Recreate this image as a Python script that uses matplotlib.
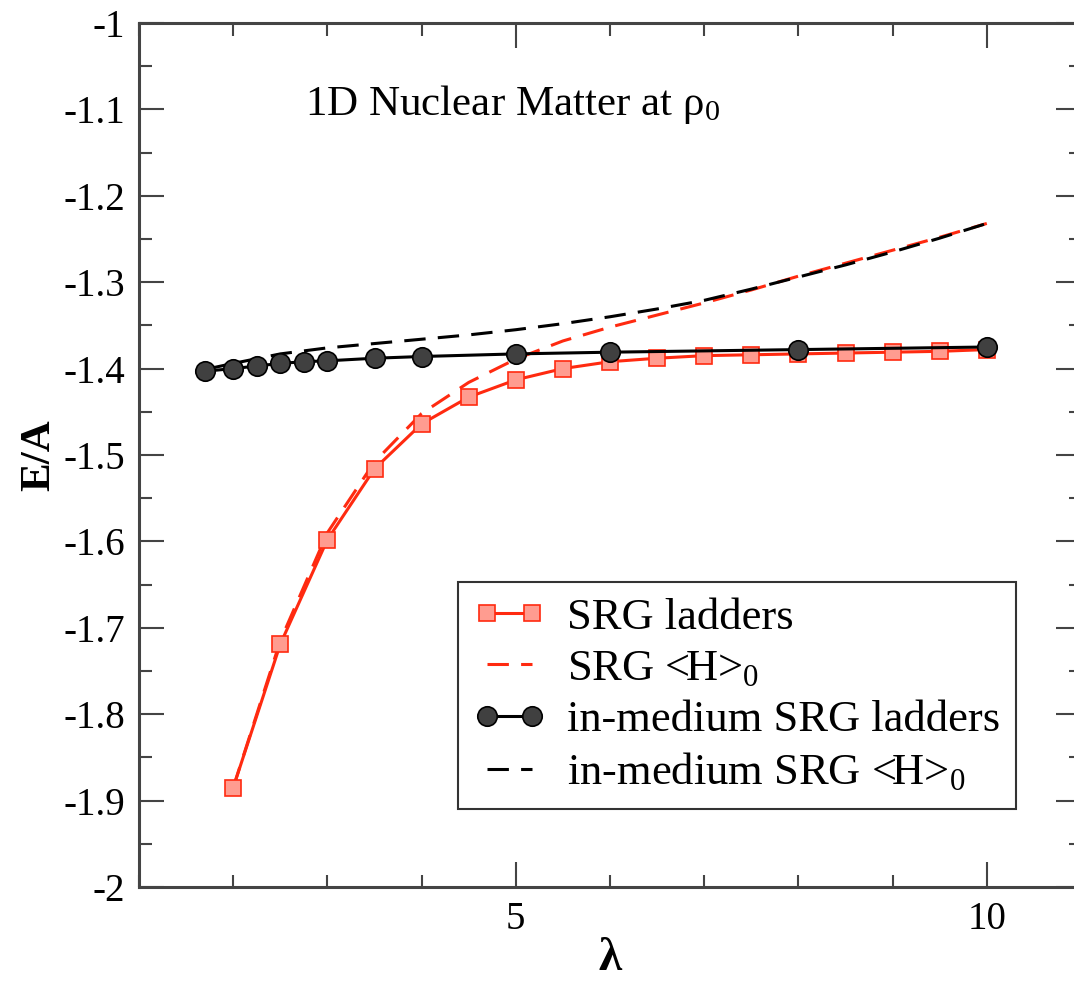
import matplotlib.pyplot as plt
from matplotlib.ticker import MultipleLocator, FixedLocator

plt.rcParams['font.family'] = ['Liberation Serif', 'DejaVu Serif']
plt.rcParams['mathtext.fontset'] = 'custom'
plt.rcParams['mathtext.rm'] = 'Liberation Serif'
plt.rcParams['mathtext.it'] = 'Liberation Serif:italic'

# SRG ladders (red squares)
srg_lam = [2, 2.5, 3, 3.5, 4, 4.5, 5, 5.5, 6, 6.5, 7, 7.5, 8, 8.5, 9, 9.5, 10]
srg_ea = [-1.885, -1.719, -1.598, -1.516, -1.464, -1.433, -1.413, -1.400, -1.392,
          -1.388, -1.385, -1.384, -1.383, -1.382, -1.381, -1.380, -1.378]

# SRG <H>_0 (red dashed)
srgh_lam = [2, 2.5, 3, 3.5, 4, 4.5, 5, 5.5, 6, 6.5, 7, 7.5, 8, 8.5, 9, 9.5, 10]
srgh_ea = [-1.885, -1.715, -1.590, -1.508, -1.452, -1.416, -1.389, -1.368, -1.352,
           -1.338, -1.324, -1.309, -1.293, -1.278, -1.263, -1.248, -1.232]

# in-medium SRG ladders (black circles)
imsrg_lam = [1.7, 2, 2.25, 2.5, 2.75, 3, 3.5, 4, 5, 6, 8, 10]
imsrg_ea = [-1.403, -1.400, -1.397, -1.394, -1.392, -1.391, -1.388, -1.386,
            -1.383, -1.381, -1.378, -1.375]

# in-medium SRG <H>_0 (black dashed)
imsrgh_lam = [1.7, 2, 2.5, 3, 3.5, 4, 4.5, 5, 5.5, 6, 6.5, 7, 7.5, 8, 8.5, 9, 9.5, 10]
imsrgh_ea = [-1.401, -1.394, -1.383, -1.376, -1.371, -1.366, -1.361, -1.355, -1.348,
             -1.340, -1.331, -1.321, -1.308, -1.294, -1.280, -1.265, -1.249, -1.232]

red = '#ff2a10'
fig = plt.figure(figsize=(10.74, 9.82), dpi=100)
ax = fig.add_axes([139/1074, 95/982, 942/1074, 864/982])

ax.plot(srg_lam, srg_ea, '-', color=red, lw=2.2, marker='s', ms=11,
        mfc='#ff9c90', mec=red, mew=1.2, label='SRG ladders', zorder=3)
ax.plot(srgh_lam, srgh_ea, '--', color=red, lw=2.2, dashes=(7, 4),
        label='SRG <H>$_0$', zorder=2)
ax.plot(imsrg_lam, imsrg_ea, '-', color='black', lw=2.2, marker='o', ms=14,
        mfc='#404040', mec='black', mew=1.2, label='in-medium SRG ladders', zorder=4)
ax.plot(imsrgh_lam, imsrgh_ea, '--', color='black', lw=2.2, dashes=(7, 4),
        label='in-medium SRG <H>$_0$', zorder=2)

ax.set_xlim(1, 11)
ax.set_ylim(-2, -1)
ax.xaxis.set_major_locator(FixedLocator([5, 10]))
ax.xaxis.set_minor_locator(MultipleLocator(1))
ax.yaxis.set_minor_locator(MultipleLocator(0.05))
ax.set_yticks([-2, -1.9, -1.8, -1.7, -1.6, -1.5, -1.4, -1.3, -1.2, -1.1, -1])
ax.set_yticklabels(['-2', '-1.9', '-1.8', '-1.7', '-1.6', '-1.5', '-1.4', '-1.3',
                    '-1.2', '-1.1', '-1'])
ax.tick_params(which='both', direction='in', top=True, right=True,
               labelsize=28, color='#444444', width=1.5)
ax.tick_params(which='major', length=18, pad=10)
ax.tick_params(which='minor', length=9)
for s in ax.spines.values():
    s.set_linewidth(2.2)
    s.set_color('#444444')

ax.set_xlabel('λ', fontsize=34, fontweight='bold', labelpad=0)
ax.set_ylabel('E/A', fontsize=31, fontweight='bold', labelpad=4)

ax.text(2.76, -1.106, '1D Nuclear Matter at ρ$_0$', fontsize=31, va='baseline')

leg = ax.legend(loc='upper left', bbox_to_anchor=(0.339, 0.353), fontsize=32,
                frameon=True, fancybox=False, edgecolor='black', numpoints=2,
                handlelength=1.6, handletextpad=0.5, labelspacing=0.25,
                borderpad=0.35, borderaxespad=0)
leg.get_frame().set_linewidth(1.5)

fig.savefig('out.png', dpi=100)
